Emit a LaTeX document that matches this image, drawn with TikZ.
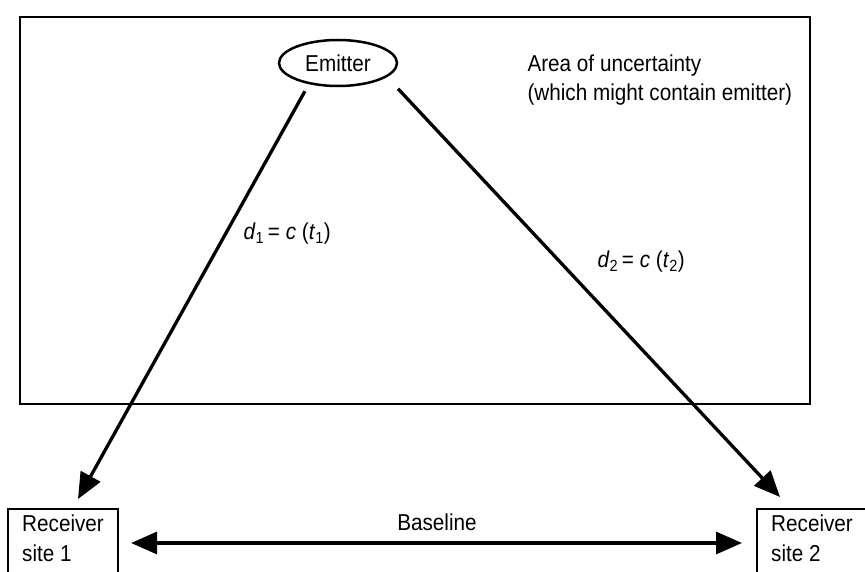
\documentclass[tikz,border=0pt]{standalone}
\usepackage{fontspec}
\setmainfont{Liberation Sans}[FakeStretch=0.9]
\usetikzlibrary{arrows.meta,shapes.geometric}
% label of a distance, d_i = c (t_i)
\newcommand{\distlabel}[1]{\textit{d}\textsubscript{#1}\,= \textit{c} (\textit{t}\textsubscript{#1})}
\begin{document}
\begin{tikzpicture}[x=1pt,y=-1pt,
	txt/.style={font=\fontsize{23}{29.5}\selectfont},
	link/.style={line width=3.3pt,-{Triangle[length=26pt,width=22pt]}},
	twoway/.style={line width=3.3pt,{Triangle[length=26pt,width=22pt]}-{Triangle[length=26pt,width=22pt]}},
	rxsite/.style={txt,align=left,inner xsep=14pt,inner ysep=6pt,text depth=40pt}]
	\useasboundingbox (0,0) rectangle (865,572);
	\draw[line width=2.8pt] (20,17) rectangle (810,404);%area
	\node[txt,draw,ellipse,line width=2.5pt,minimum width=118pt,minimum height=46pt] (emit) at (338,63) {Emitter};
	\node[txt,anchor=base west,align=left] (area) at (524,101) {Area of uncertainty\\(which might contain emitter)};
	
	\node[rxsite,anchor=north west] (rx1) at (8,509) {Receiver\\site 1};
	\node[rxsite,anchor=north west] (rx2) at (757,509) {Receiver\\site 2};
	\draw[line width=2.3pt] (rx1.south west) |- (rx1.north east) -- (rx1.south east);
	\draw[line width=2.3pt] (rx2.south west) |- (rx2.north east) -- (rx2.south east);
	
	\coordinate (tip1) at (78,499);
	\coordinate (tip2) at (780,497);
	\coordinate (bl) at (0,543);
	\draw[link,shorten <=8pt] (emit.216) -- (tip1);
	\draw[link,shorten <=16pt] (emit.344) -- (tip2);
	\draw[twoway,shorten <=13pt,shorten >=15pt] (rx1.east |- bl) -- (rx2.west |- bl);
	\node[txt,anchor=base] (base) at (437,530) {Baseline};
	
	\node[txt,anchor=base west] (d1) at (240,240) {\distlabel{1}};
	\node[txt,anchor=base west] (d2) at (594,268) {\distlabel{2}};
\end{tikzpicture}
\end{document}
